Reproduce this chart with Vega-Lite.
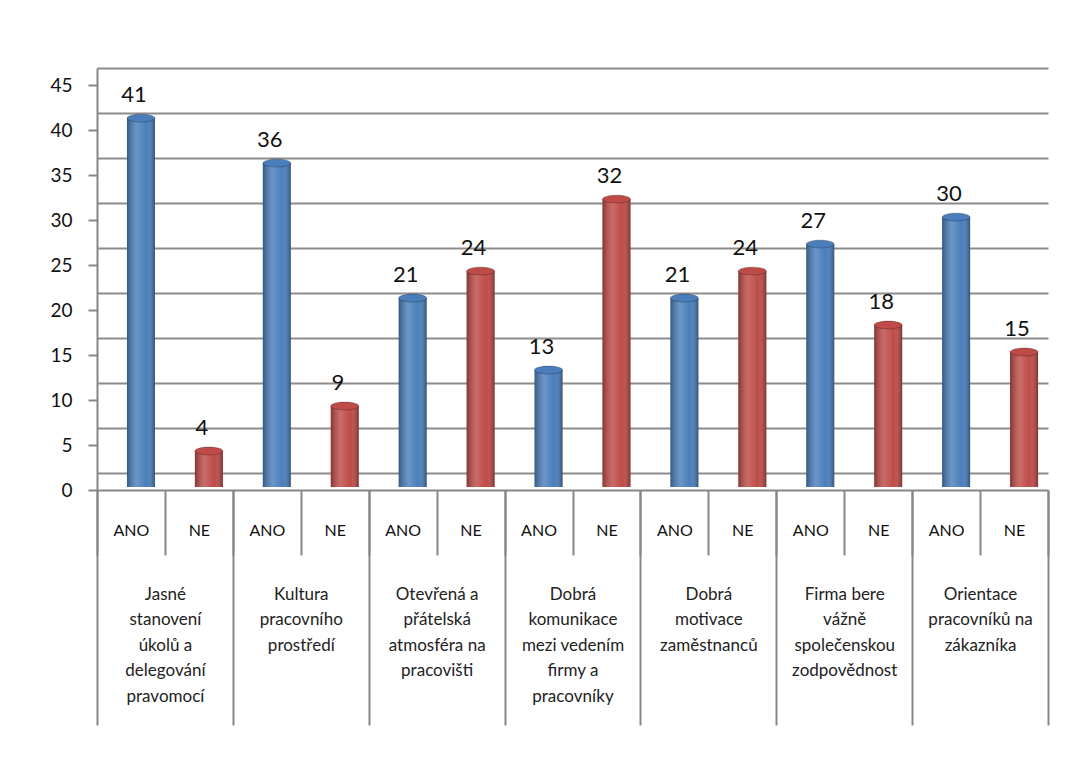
{
  "$schema": "https://vega.github.io/schema/vega-lite/v6.json",
  "width": 973,
  "height": 422,
  "autosize": "none",
  "padding": {"left": 97, "top": 68, "right": 15, "bottom": 282},
  "background": "white",
  "config": {"font": "Lato", "view": {"stroke": null}},
  "data": {
    "values": [
      {"kategorie": "Jasné stanovení úkolů a delegování pravomocí", "odpoved": "ANO", "pocet": 41},
      {"kategorie": "Jasné stanovení úkolů a delegování pravomocí", "odpoved": "NE", "pocet": 4},
      {"kategorie": "Kultura pracovního prostředí", "odpoved": "ANO", "pocet": 36},
      {"kategorie": "Kultura pracovního prostředí", "odpoved": "NE", "pocet": 9},
      {"kategorie": "Otevřená a přátelská atmosféra na pracovišti", "odpoved": "ANO", "pocet": 21},
      {"kategorie": "Otevřená a přátelská atmosféra na pracovišti", "odpoved": "NE", "pocet": 24},
      {"kategorie": "Dobrá komunikace mezi vedením firmy a pracovníky", "odpoved": "ANO", "pocet": 13},
      {"kategorie": "Dobrá komunikace mezi vedením firmy a pracovníky", "odpoved": "NE", "pocet": 32},
      {"kategorie": "Dobrá motivace zaměstnanců", "odpoved": "ANO", "pocet": 21},
      {"kategorie": "Dobrá motivace zaměstnanců", "odpoved": "NE", "pocet": 24},
      {"kategorie": "Firma bere vážně společenskou zodpovědnost", "odpoved": "ANO", "pocet": 27},
      {"kategorie": "Firma bere vážně společenskou zodpovědnost", "odpoved": "NE", "pocet": 18},
      {"kategorie": "Orientace pracovníků na zákazníka", "odpoved": "ANO", "pocet": 30},
      {"kategorie": "Orientace pracovníků na zákazníka", "odpoved": "NE", "pocet": 15}
    ]
  },
  "transform": [{"calculate": "datum.kategorie + '|' + datum.odpoved", "as": "sloupec"}],
  "layer": [
    {
      "mark": {"type": "bar", "opacity": 0},
      "encoding": {
        "x": {
          "field": "kategorie", "type": "nominal", "sort": null,
          "scale": {"range": [0, 951], "paddingInner": 0, "paddingOuter": 0},
          "axis": {
            "orient": "bottom", "title": null, "labelAngle": 0, "tickBand": "extent",
            "tickSize": 235, "tickColor": "#868686", "tickWidth": 2, "domain": false,
            "labelPadding": -139, "labelBaseline": "top", "labelFontSize": 17,
            "labelLineHeight": 25.5, "labelColor": "#222", "labelLimit": 0,
            "labelExpr": "datum.value == 'Jasné stanovení úkolů a delegování pravomocí' ? ['Jasné','stanovení','úkolů a','delegování','pravomocí'] : datum.value == 'Kultura pracovního prostředí' ? ['Kultura','pracovního','prostředí'] : datum.value == 'Otevřená a přátelská atmosféra na pracovišti' ? ['Otevřená a','přátelská','atmosféra na','pracovišti'] : datum.value == 'Dobrá komunikace mezi vedením firmy a pracovníky' ? ['Dobrá','komunikace','mezi vedením','firmy a','pracovníky'] : datum.value == 'Dobrá motivace zaměstnanců' ? ['Dobrá','motivace','zaměstnanců'] : datum.value == 'Firma bere vážně společenskou zodpovědnost' ? ['Firma bere','vážně','společenskou','zodpovědnost'] : datum.value == 'Orientace pracovníků na zákazníka' ? ['Orientace','pracovníků na','zákazníka'] : datum.value"
          }
        },
        "y": {
          "field": "pocet", "type": "quantitative",
          "scale": {"domain": [-1.89, 45], "nice": false, "zero": false},
          "axis": {"orient": "left", "grid": true, "gridColor": "#8c8c8c", "gridWidth": 2, "labels": false, "ticks": false, "domain": false, "title": null, "values": [0, 5, 10, 15, 20, 25, 30, 35, 40, 45]}
        }
      }
    },
    {
      "encoding": {
        "x": {
          "field": "sloupec", "type": "nominal", "sort": null,
          "scale": {"range": [0, 951], "paddingInner": 0, "paddingOuter": 0},
          "axis": {
            "orient": "bottom", "title": null, "labelAngle": 0, "tickBand": "extent",
            "tickSize": 65, "tickColor": "#868686", "tickWidth": 2,
            "domainColor": "#868686", "domainWidth": 2,
            "labelPadding": -25, "labelBaseline": "middle", "labelFontSize": 16,
            "labelColor": "#111",
            "labelExpr": "split(datum.value, '|')[1]"
          }
        },
        "y": {
          "field": "pocet", "type": "quantitative",
          "scale": {"domain": [0, 46.9], "nice": false},
          "axis": {"orient": "left", "grid": false, "title": null, "values": [0, 5, 10, 15, 20, 25, 30, 35, 40, 45], "tickSize": 9, "tickColor": "#868686", "tickWidth": 2, "domainColor": "#868686", "domainWidth": 2, "labelPadding": 16, "labelFontSize": 19, "labelColor": "#111"}
        },
        "color": {"field": "odpoved", "type": "nominal", "scale": {"domain": ["ANO", "NE"], "range": ["#4a7ebb", "#be4b48"]}, "legend": null}
      },
      "layer": [
        {"mark": {"type": "bar", "width": 28, "xOffset": 10, "yOffset": -3}},
        {
          "mark": {
            "type": "bar", "width": 28, "xOffset": 10, "yOffset": -3,
            "fill": {"gradient": "linear", "x1": 0, "x2": 1, "y1": 0, "y2": 0, "stops": [
              {"offset": 0, "color": "rgba(0,0,0,0.30)"},
              {"offset": 0.35, "color": "rgba(255,255,255,0.18)"},
              {"offset": 0.7, "color": "rgba(255,255,255,0)"},
              {"offset": 1, "color": "rgba(0,0,0,0.35)"}
            ]}
          }
        },
        {
          "mark": {"type": "point", "filled": true, "opacity": 1, "size": 784, "xOffset": 10, "yOffset": -3, "shape": "M-1,0A1,0.28,0,1,0,1,0A1,0.28,0,1,0,-1,0Z", "stroke": "rgba(0,0,0,0.25)", "strokeWidth": 1}
        },
        {
          "mark": {"type": "text", "baseline": "alphabetic", "dy": -19, "xOffset": 3, "fontSize": 22, "color": "#111"},
          "encoding": {"text": {"field": "pocet", "type": "quantitative"}, "color": {"value": "#111"}}
        }
      ]
    }
  ],
  "resolve": {"scale": {"x": "independent", "y": "independent", "color": "independent"}, "axis": {"x": "independent", "y": "independent"}}
}
